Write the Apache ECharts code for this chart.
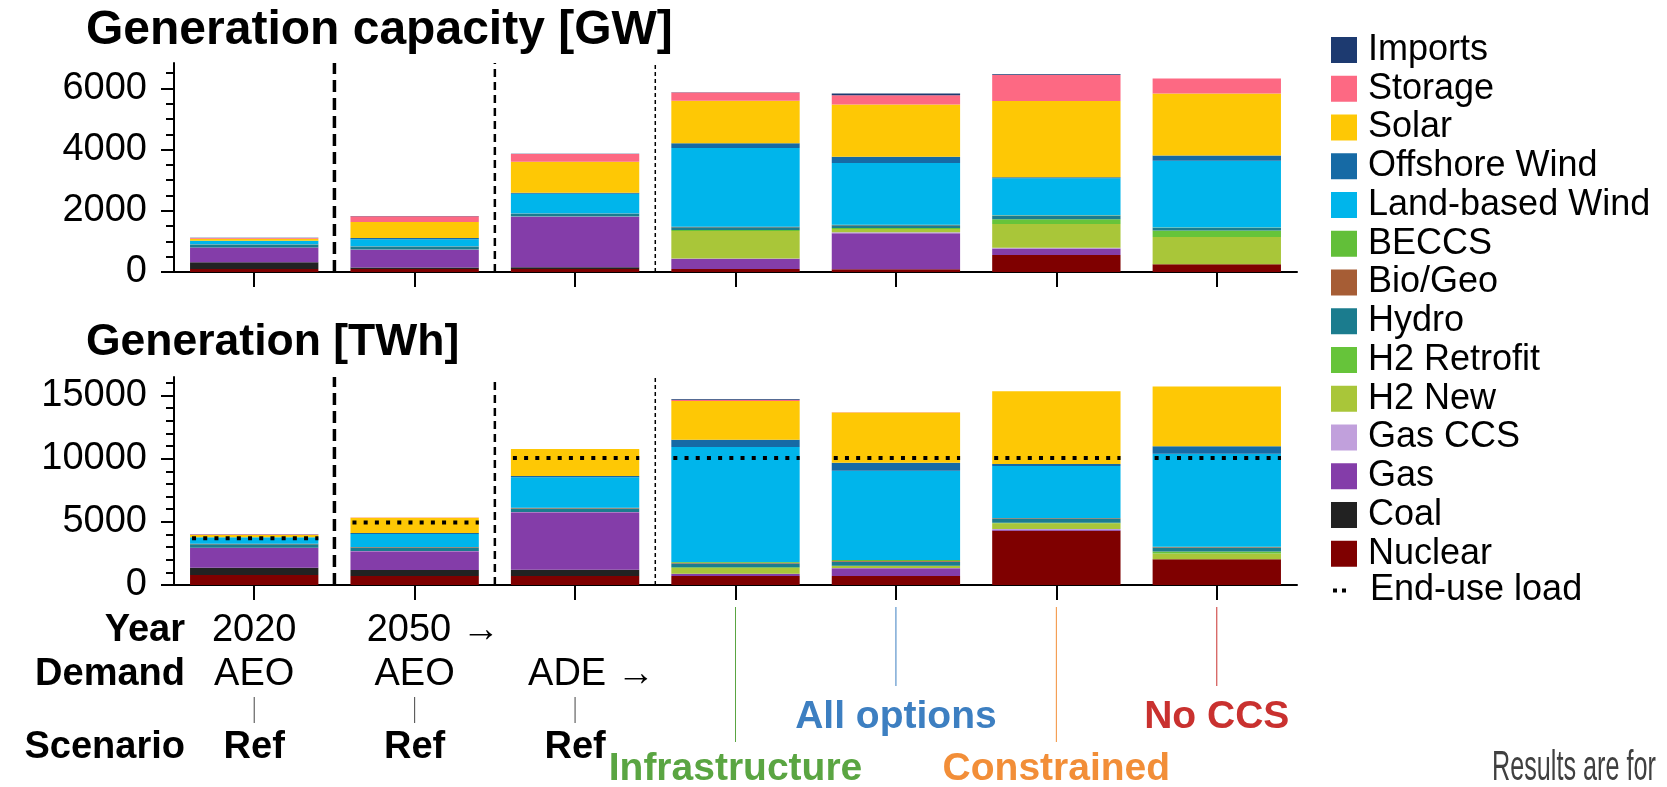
<!DOCTYPE html>
<html><head><meta charset="utf-8">
<style>html,body{margin:0;padding:0;background:#fff;}#chart{width:1667px;height:787px;}</style>
<script src="https://cdn.jsdelivr.net/npm/echarts@6.0.0/dist/echarts.min.js"></script>
</head><body><div id="chart"></div>
<script>
// ---------------- DATA ----------------
const categories = ['2020 AEO Ref', '2050 AEO Ref', 'ADE Ref', 'Infrastructure', 'All options', 'Constrained', 'No CCS'];
const techNames = ['Nuclear', 'Coal', 'Gas', 'Gas CCS', 'H2 New', 'H2 Retrofit', 'Hydro', 'Bio/Geo', 'BECCS', 'Land-based Wind', 'Offshore Wind', 'Solar', 'Storage', 'Imports'];
const techColors = ['#7f0000', '#222222', '#843da9', '#c1a0dc', '#a9c639', '#66c43a', '#1b7c8e', '#a65d35', '#62bf39', '#00b5eb', '#166aa5', '#fec805', '#fd6983', '#1d3a70'];
const legendOrder = ['Imports', 'Storage', 'Solar', 'Offshore Wind', 'Land-based Wind', 'BECCS', 'Bio/Geo', 'Hydro', 'H2 Retrofit', 'H2 New', 'Gas CCS', 'Gas', 'Coal', 'Nuclear'];

// Generation capacity [GW]
const capNuclear    = [95, 95, 95, 100, 90, 555, 250];
const capCoal       = [225, 55, 60, 0, 0, 0, 0];
const capGas        = [480, 575, 1640, 335, 1180, 210, 0];
const capGasCCS     = [0, 10, 20, 5, 25, 25, 0];
const capH2New      = [0, 0, 0, 900, 110, 780, 890];
const capH2Retrofit = [0, 0, 0, 30, 30, 150, 215];
const capHydro      = [85, 85, 85, 95, 95, 120, 85];
const capBioGeo     = [15, 10, 10, 10, 10, 10, 10];
const capBECCS      = [0, 0, 0, 5, 5, 5, 5];
const capLandWind   = [120, 240, 650, 2570, 2020, 1205, 2180];
const capOffshore   = [0, 40, 30, 160, 205, 40, 175];
const capSolar      = [70, 520, 1010, 1390, 1705, 2490, 2020];
const capStorage    = [25, 195, 260, 270, 300, 845, 490];
const capImports    = [5, 5, 5, 5, 55, 30, 5];

// Generation [TWh]
const genNuclear    = [790, 710, 713, 713, 713, 4300, 2030];
const genCoal       = [580, 475, 500, 0, 0, 0, 0];
const genGas        = [1585, 1495, 4540, 180, 610, 55, 0];
const genGasCCS     = [0, 10, 20, 5, 25, 80, 0];
const genH2New      = [0, 0, 0, 450, 150, 450, 470];
const genH2Retrofit = [0, 0, 0, 60, 30, 50, 160];
const genHydro      = [270, 270, 290, 300, 320, 300, 300];
const genBioGeo     = [50, 45, 60, 60, 60, 45, 40];
const genBECCS      = [0, 0, 0, 60, 65, 10, 30];
const genLandWind   = [500, 1030, 2400, 9100, 7070, 4130, 7370];
const genOffshore   = [10, 80, 105, 580, 633, 160, 585];
const genSolar      = [180, 1215, 2140, 3065, 3990, 5760, 4725];
const genStorage    = [30, 15, 0, 80, 5, 5, 5];
const genImports    = [20, 5, 0, 50, 5, 5, 5];

const endUseLoad    = [3700, 4940, 10050, 10050, 10050, 10050, 10050];

// Axis ticks
const capMax = 6830;
const genMax = 16470;
const capMajorTicks = [0, 2000, 4000, 6000];
const capMinorTicks = [0, 500, 1000, 1500, 2000, 2500, 3000, 3500, 4000, 4500, 5000, 5500, 6000, 6500];
const genMajorTicks = [0, 5000, 10000, 15000];
const genMinorTicks = [0, 1000, 2000, 3000, 4000, 5000, 6000, 7000, 8000, 9000, 10000, 11000, 12000, 13000, 14000, 15000, 16000];

// Annotation texts
const rowTitles = ['Year', 'Demand', 'Scenario'];
const yearLabels = ['2020', '2050 →', '', '', '', '', ''];
const demandLabels = ['AEO', 'AEO', 'ADE →', '', '', '', ''];
const scenarioLabels = ['Ref', 'Ref', 'Ref', 'Infrastructure', 'All options', 'Constrained', 'No CCS'];
const scenarioColors = ['#000000', '#000000', '#000000', '#5aa542', '#3d7fc1', '#f28e38', '#c9312f'];
const titles = ['Generation capacity [GW]', 'Generation [TWh]'];
const footnote = 'Results are for';

// ---------------- BUILD ----------------
const capData = {'Nuclear': capNuclear, 'Coal': capCoal, 'Gas': capGas, 'Gas CCS': capGasCCS, 'H2 New': capH2New, 'H2 Retrofit': capH2Retrofit, 'Hydro': capHydro, 'Bio/Geo': capBioGeo, 'BECCS': capBECCS, 'Land-based Wind': capLandWind, 'Offshore Wind': capOffshore, 'Solar': capSolar, 'Storage': capStorage, 'Imports': capImports};
const genData = {'Nuclear': genNuclear, 'Coal': genCoal, 'Gas': genGas, 'Gas CCS': genGasCCS, 'H2 New': genH2New, 'H2 Retrofit': genH2Retrofit, 'Hydro': genHydro, 'Bio/Geo': genBioGeo, 'BECCS': genBECCS, 'Land-based Wind': genLandWind, 'Offshore Wind': genOffshore, 'Solar': genSolar, 'Storage': genStorage, 'Imports': genImports};

const FONT = "'Liberation Sans', Arial, Helvetica, sans-serif";
const chart = echarts.init(document.getElementById('chart'), null, {renderer: 'canvas'});

const series = [];
techNames.forEach((n, i) => {
  series.push({name: n, type: 'bar', stack: 'cap', xAxisIndex: 0, yAxisIndex: 0, barWidth: '80%',
    data: capData[n], itemStyle: {color: techColors[i]}, emphasis: {disabled: true}});
  series.push({name: n, type: 'bar', stack: 'gen', xAxisIndex: 1, yAxisIndex: 2, barWidth: '80%',
    data: genData[n], itemStyle: {color: techColors[i]}, emphasis: {disabled: true}});
});

// divider lines between category groups (after categories 0,1,2)
const dividerStyles = [
  {lineWidth: 3.5, lineDash: [12, 6]},
  {lineWidth: 2.5, lineDash: [8, 5]},
  {lineWidth: 1.5, lineDash: [4, 3]}
];
function dividerRender(maxV) {
  return function (params, api) {
    const idx = api.value(0);
    const c0 = api.coord([idx, 0]);
    const c1 = api.coord([idx, maxV]);
    const bw = api.size([1, 0])[0];
    const x = c0[0] + bw / 2;
    const st = dividerStyles[params.dataIndex];
    return {type: 'line', shape: {x1: x, y1: c0[1], x2: x, y2: c1[1]},
      style: {stroke: '#000', lineWidth: st.lineWidth, lineDash: st.lineDash, fill: null}};
  };
}
series.push({name: '_div0', type: 'custom', xAxisIndex: 0, yAxisIndex: 0, data: [[0, 0], [1, 0], [2, 0]],
  renderItem: dividerRender(capMax), z: 5, silent: true});
series.push({name: '_div1', type: 'custom', xAxisIndex: 1, yAxisIndex: 2, data: [[0, 0], [1, 0], [2, 0]],
  renderItem: dividerRender(genMax), z: 5, silent: true});

// end-use load dotted lines
series.push({name: 'End-use load', type: 'custom', xAxisIndex: 1, yAxisIndex: 2,
  data: endUseLoad.map((v, i) => [i, v]), itemStyle: {color: '#000'}, z: 6, silent: true,
  renderItem: function (params, api) {
    const c = api.coord([api.value(0), api.value(1)]);
    const bw = api.size([1, 0])[0] * 0.8;
    return {type: 'line', shape: {x1: c[0] - bw / 2 + 2, y1: c[1], x2: c[0] + bw / 2, y2: c[1]},
      style: {stroke: '#000', lineWidth: 4, lineDash: [4, 7.2], lineCap: 'butt', fill: null}};
  }});

function xAxisCfg(g) {
  return {gridIndex: g, type: 'category', data: categories, boundaryGap: true,
    axisLine: {show: true, lineStyle: {color: '#000', width: 2}},
    axisTick: {show: true, alignWithLabel: true, interval: 0, length: 15, lineStyle: {color: '#000', width: 2}},
    axisLabel: {show: false}, splitLine: {show: false}};
}
function yMajor(g, maxV, majors, minors) {
  return {gridIndex: g, type: 'value', position: 'left', min: 0, max: maxV, interval: minors[1],
    axisLine: {show: true, lineStyle: {color: '#000', width: 2}},
    axisTick: {show: true, length: 13, lineStyle: {color: '#000', width: 2}, customValues: majors},
    axisLabel: {show: true, customValues: majors, fontSize: 38, fontFamily: FONT, color: '#000', margin: 27,
      formatter: v => String(v)},
    splitLine: {show: false}};
}
function yMinor(g, maxV, minors) {
  return {gridIndex: g, type: 'value', position: 'left', offset: 0, min: 0, max: maxV, interval: minors[1],
    axisLine: {show: false},
    axisTick: {show: true, length: 8, lineStyle: {color: '#000', width: 2}, customValues: minors},
    axisLabel: {show: false}, splitLine: {show: false}};
}

const option = {
  animation: false,
  backgroundColor: '#fff',
  textStyle: {fontFamily: FONT},
  grid: [
    {left: 174, top: 63, width: 1123, height: 209},
    {left: 174, top: 377, width: 1123, height: 208}
  ],
  xAxis: [xAxisCfg(0), xAxisCfg(1)],
  yAxis: [
    yMajor(0, capMax, capMajorTicks, capMinorTicks), yMinor(0, capMax, capMinorTicks),
    yMajor(1, genMax, genMajorTicks, genMinorTicks), yMinor(1, genMax, genMinorTicks)
  ],
  legend: [
    {data: legendOrder.map(n => ({name: n, icon: 'rect'})), orient: 'vertical', left: 1331, top: 32,
      itemWidth: 26, itemHeight: 26, itemGap: 2.75, selectedMode: false, padding: 0,
      textStyle: {fontSize: 36, fontFamily: FONT, color: '#000', padding: [0, 0, 0, 6]}},
    {data: [{name: 'End-use load', icon: 'path://M0 0H4V4H0Z M9 0H13V4H9Z', itemStyle: {color: '#000'}}],
      orient: 'vertical', left: 1333, top: 572.5, itemWidth: 13, itemHeight: 4, selectedMode: false, padding: 0,
      textStyle: {fontSize: 36, fontFamily: FONT, color: '#000', padding: [0, 0, 0, 19]}}
  ],
  series: series
};
chart.setOption(option);

// ---------------- ANNOTATIONS ----------------
const centers = categories.map((c, i) => chart.convertToPixel({xAxisIndex: 1}, i));
const g = [];
function txt(x, y, text, opts) {
  g.push(Object.assign({type: 'text', x: x, y: y, silent: true,
    style: Object.assign({text: text, fill: '#000', font: '38px ' + FONT, textAlign: 'center', textVerticalAlign: 'middle'}, opts || {})}));
}
txt(86, 31, titles[0], {font: 'bold 48px ' + FONT, textAlign: 'left'});
txt(86, 343, titles[1], {font: 'bold 44.5px ' + FONT, textAlign: 'left'});

const rowY = [631, 675, 748];
rowTitles.forEach((t, i) => txt(185, rowY[i], t, {font: 'bold 38px ' + FONT, textAlign: 'right'}));

yearLabels.forEach((t, i) => {
  if (!t) return;
  if (t.indexOf('→') >= 0) txt(centers[i] - 48, rowY[0], t, {textAlign: 'left'});
  else txt(centers[i], rowY[0], t);
});
demandLabels.forEach((t, i) => {
  if (!t) return;
  if (t.indexOf('→') >= 0) txt(centers[i] - 47, rowY[1], t, {textAlign: 'left'});
  else txt(centers[i], rowY[1], t);
});
scenarioLabels.forEach((t, i) => {
  const col = scenarioColors[i];
  if (i < 3) {
    g.push({type: 'line', silent: true, shape: {x1: centers[i], y1: 697, x2: centers[i], y2: 723}, style: {stroke: '#444', lineWidth: 1}});
    txt(centers[i], rowY[2], t, {font: 'bold 38px ' + FONT});
  } else {
    const low = (i === 3 || i === 5);
    const yEnd = low ? 742 : 686;
    const yText = low ? 769 : 717;
    g.push({type: 'line', silent: true, shape: {x1: centers[i], y1: 607, x2: centers[i], y2: yEnd}, style: {stroke: col, lineWidth: 1}});
    txt(centers[i], yText, t, {font: 'bold 39px ' + FONT, fill: col});
  }
});
g.push({type: 'text', x: 1492, y: 768, scaleX: 0.6, silent: true,
  style: {text: footnote, fill: '#404040', font: '42px ' + FONT, textAlign: 'left', textVerticalAlign: 'middle'}});

chart.setOption({graphic: g});
</script>
</body></html>
